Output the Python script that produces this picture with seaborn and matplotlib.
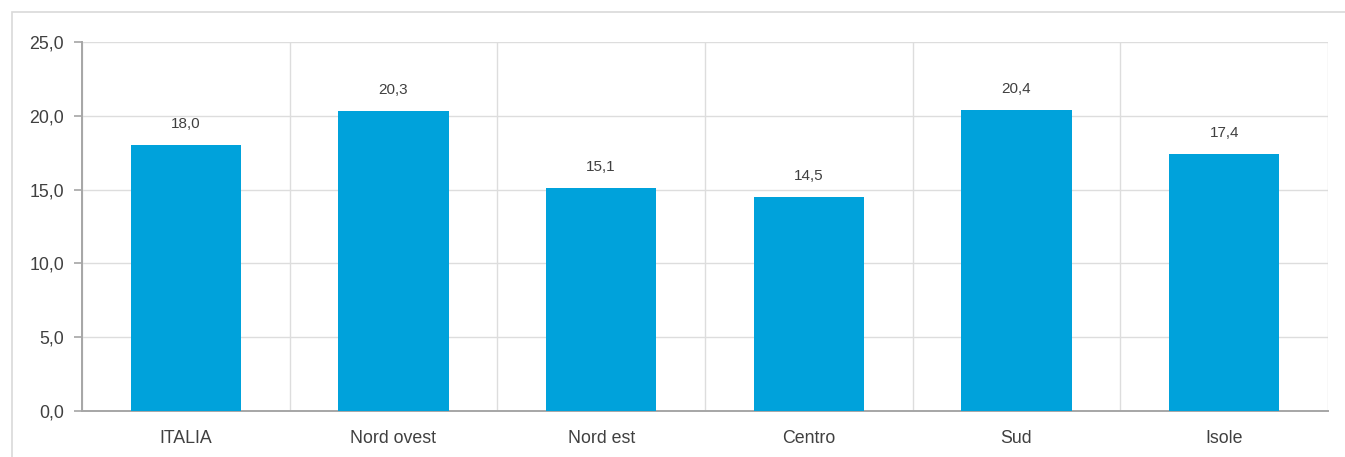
import matplotlib
matplotlib.use("Agg")
import matplotlib.pyplot as plt
import matplotlib.patches as mpatches
from matplotlib.ticker import FixedLocator, FuncFormatter
import seaborn as sns
import pandas as pd

# Regional values
categories = ["ITALIA", "Nord ovest", "Nord est", "Centro", "Sud", "Isole"]
values = [18.0, 20.3, 15.1, 14.5, 20.4, 17.4]
y_ticks = [0, 5, 10, 15, 20, 25]

BAR_COLOR = "#00A2DB"
TEXT_COLOR = "#404040"
SPINE_COLOR = "#A6A6A6"
GRID_COLOR = "#DDDDDD"

sns.set_theme(style="white")
plt.rcParams["font.family"] = ["Liberation Sans", "DejaVu Sans"]

df = pd.DataFrame({"regione": categories, "valore": values})

fig = plt.figure(figsize=(13.45, 4.57), dpi=100)
ax = fig.add_axes([82 / 1345, 1 - 411 / 457, (1328 - 82) / 1345, (411 - 42) / 457])

# light outer frame
fig.patches.append(mpatches.Rectangle((12 / 1345, -0.1), 1.2, 1 - 12 / 457 + 0.1,
                                      transform=fig.transFigure, fill=False,
                                      edgecolor="#D9D9D9", linewidth=1.2, zorder=0))

sns.barplot(data=df, x="regione", y="valore", color=BAR_COLOR, saturation=1,
            width=0.53, ax=ax, zorder=3, linewidth=0)

ax.set_xlim(-0.5, len(categories) - 0.5)
ax.set_ylim(0, 25)
ax.set_xlabel("")
ax.set_ylabel("")

# y axis ticks with comma decimals
ax.yaxis.set_major_locator(FixedLocator(y_ticks))
ax.yaxis.set_major_formatter(FuncFormatter(lambda v, p: f"{v:.1f}".replace(".", ",")))

# category boundaries as minor ticks, with vertical grid
bounds = [i - 0.5 for i in range(len(categories) + 1)]
ax.xaxis.set_minor_locator(FixedLocator(bounds))
ax.tick_params(axis="x", which="major", length=0, labelsize=12.8, colors=TEXT_COLOR, pad=14)
ax.tick_params(axis="x", which="minor", length=6, width=1.2, color=SPINE_COLOR, direction="out")
ax.tick_params(axis="y", which="major", length=6, width=1.2, color=SPINE_COLOR,
               labelsize=12.8, labelcolor=TEXT_COLOR, direction="out", pad=7)
ax.tick_params(bottom=True, left=True)

ax.grid(True, axis="y", which="major", color=GRID_COLOR, linewidth=1, zorder=0)
ax.grid(True, axis="x", which="minor", color=GRID_COLOR, linewidth=1, zorder=0)
ax.grid(False, axis="x", which="major")
ax.set_axisbelow(True)

for side in ["top", "right"]:
    ax.spines[side].set_visible(False)
for side in ["left", "bottom"]:
    ax.spines[side].set_color(SPINE_COLOR)
    ax.spines[side].set_linewidth(1.4)

# value labels above bars
for i, v in enumerate(values):
    ax.annotate(f"{v:.1f}".replace(".", ","), xy=(i, v), xytext=(0, 10),
                textcoords="offset points", ha="center", va="bottom",
                fontsize=11, color=TEXT_COLOR)

fig.savefig("out.png", dpi=100, facecolor="white")
